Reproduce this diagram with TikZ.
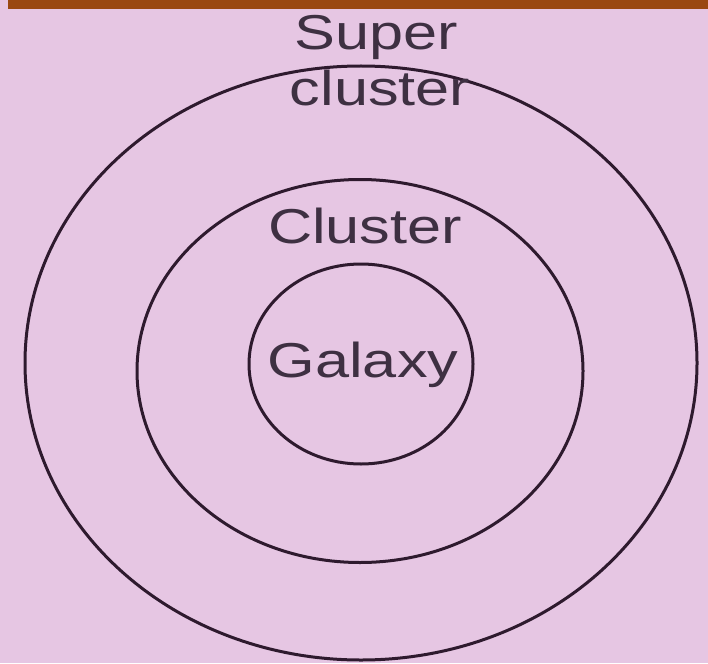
\documentclass[tikz,border=0pt]{standalone}
\usepackage{fontspec}
\setmainfont{Liberation Sans}
\usepackage{tikz}
\usetikzlibrary{shapes.geometric, positioning}
\usepackage{xcolor}
\definecolor{pinkbg}{HTML}{E6C6E3}
\definecolor{brownbar}{HTML}{9A4812}
\definecolor{ringcol}{HTML}{2E1A2E}
\definecolor{labelcol}{HTML}{3E3042}
\tikzstyle{ring} = [ellipse, draw=ringcol, line width=3pt, inner sep=0pt]
\tikzstyle{lbl} = [text=labelcol, anchor=base, inner sep=0pt, font=\fontsize{49}{55}\selectfont]

\begin{document}
\begin{tikzpicture}[x=1pt, y=-1pt]
        \fill[pinkbg] (0,0) rectangle (708,663);
        \fill[brownbar] (8,0) rectangle (708,9);
        \useasboundingbox (0,0) rectangle (708,663);
        
        \node (supercl) [ring, minimum width=672pt, minimum height=594pt] at (361,363) {};
        \node (cl) [ring, minimum width=446pt, minimum height=383pt] at (360,371) {};
        \node (gal) [ring, minimum width=224pt, minimum height=200pt] at (361,364) {};
        
        \node (tsuper) [lbl] at (376,50) {\scalebox{1.25}[1]{Super}};
        \node (tsupercl) [lbl] at (380,106) {\scalebox{1.25}[1]{cluster}};
        \node (tcl) [lbl] at (365,243) {\scalebox{1.25}[1]{Cluster}};
        \node (tgal) [lbl] at (363,377) {\scalebox{1.25}[1]{Galaxy}};
    \end{tikzpicture}
\end{document}
